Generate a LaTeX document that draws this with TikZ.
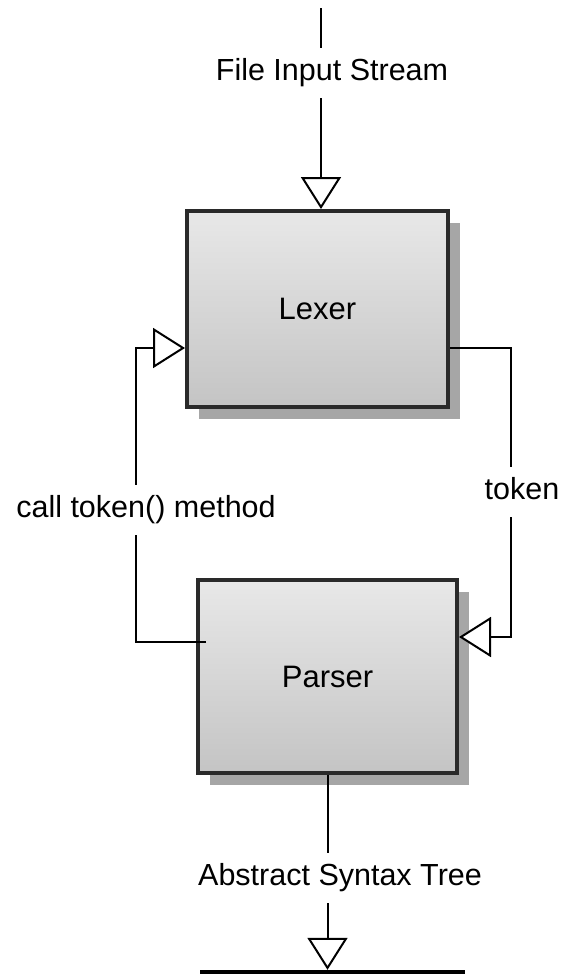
\documentclass[tikz,border=0pt]{standalone}
\usepackage{fontspec}
\setmainfont{Liberation Sans}
\usetikzlibrary{arrows.meta,shadows}
\definecolor{boxtop}{HTML}{E8E8E8}
\definecolor{boxbot}{HTML}{C4C4C4}
\definecolor{shadowc}{HTML}{A6A6A6}
\definecolor{edgec}{HTML}{2A2A2A}
\begin{document}
\begin{tikzpicture}[x=1pt,y=-1pt,
  box/.style={draw=edgec, line width=4pt, top color=boxtop, bottom color=boxbot,
    drop shadow={shadow xshift=12pt, shadow yshift=-12pt, fill=shadowc, opacity=1},
    font=\fontsize{31}{36}\selectfont, inner sep=0pt},
  conn/.style={draw=black, line width=2pt},
  tri/.style={-{Triangle[length=32pt, width=40pt, fill=white]}},
  lbl/.style={fill=white, font=\fontsize{30.5}{36}\selectfont, text height=22pt,
    text depth=6pt, inner xsep=2pt, inner ysep=11pt}]
\useasboundingbox[fill=white] (0,0) rectangle (562,975);

\node[box, minimum width=261pt, minimum height=196pt] (lexer) at (317.5,309) {Lexer};
\node[box, minimum width=259pt, minimum height=193pt] (parser) at (327.5,676.5) {Parser};
\node[fill=black, minimum width=265pt, minimum height=4pt, inner sep=0pt] (sink) at (332.5,972) {};

\coordinate (src) at (321,8);
\coordinate (lbend) at (136,0);
\coordinate (rbend) at (511,0);
\coordinate (lw) at ([yshift=-39pt]lexer.west);
\coordinate (le) at ([yshift=-39pt]lexer.east);
\coordinate (pw) at ([yshift=34.5pt]parser.west);
\coordinate (pe) at ([yshift=39.5pt]parser.east);

\draw[conn, tri] (src) -- (src |- lexer.north);
\draw[conn, tri, shorten <=-10pt] (pw) -- (pw -| lbend) -- (lw -| lbend) -- (lw);
\draw[conn, tri] (le) -- (le -| rbend) -- (pe -| rbend) -- (pe);
\draw[conn, tri] (parser.south) -- (parser.south |- sink.north);

\node[lbl] (l1) at (332,72.5) {File Input Stream};
\node[lbl] (l2) at (146,509.5) {call token() method};
\node[lbl] (l3) at (522,491.5) {token};
\node[lbl] (l4) at (340,877.5) {Abstract Syntax Tree};
\end{tikzpicture}
\end{document}
